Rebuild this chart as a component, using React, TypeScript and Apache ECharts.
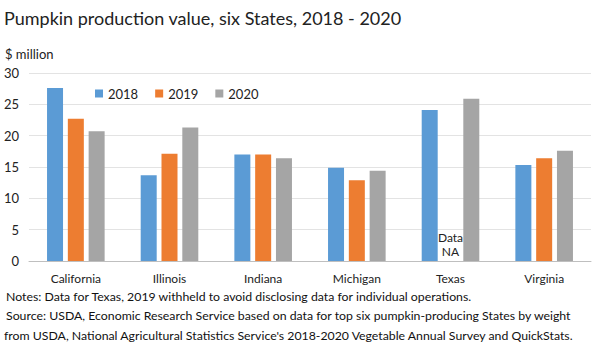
import React, { useEffect, useRef } from "react";
import * as echarts from "echarts";

const states = ["California", "Illinois", "Indiana", "Michigan", "Texas", "Virginia"];
const years = ["2018", "2019", "2020"];
const values2018 = [27.6, 13.7, 17.0, 14.9, 24.1, 15.3];
const values2019: (number | null)[] = [22.7, 17.1, 17.0, 12.9, null, 16.4];
const values2020 = [20.7, 21.3, 16.4, 14.4, 25.9, 17.6];
const colors = ["#5B9BD5", "#ED7D31", "#A5A5A5"];

const titleText = "Pumpkin production value, six States, 2018 - 2020";
const unitText = "$ million";
const noteLines = [
  "Notes: Data for Texas, 2019 withheld to avoid disclosing data for individual operations.",
  "Source: USDA, Economic Research Service based on data for top six pumpkin-producing States by weight",
  "from USDA, National Agricultural Statistics Service's 2018-2020 Vegetable Annual Survey and QuickStats.",
];
const naLabel = "Data\nNA";

const FONT = "Lato, 'Open Sans', sans-serif";

export default function App() {
  const ref = useRef<HTMLDivElement>(null);
  useEffect(() => {
    if (!ref.current) return;
    const chart = echarts.init(ref.current, null, { renderer: "svg" });
    const seriesData = [values2018, values2019, values2020];
    chart.setOption({
      animation: false,
      backgroundColor: "#fff",
      textStyle: { fontFamily: FONT },
      grid: { left: 29, right: 9, top: 73, bottom: 90, containLabel: false },
      legend: {
        data: years,
        left: 90,
        top: 82,
        itemWidth: 8,
        itemHeight: 8,
        itemGap: 17,
        icon: "rect",
        textStyle: { fontSize: 13, color: "#222", fontFamily: FONT },
      },
      xAxis: {
        type: "category",
        data: states,
        axisLine: { lineStyle: { color: "#bfbfbf", width: 1 } },
        axisTick: { show: false },
        axisLabel: { color: "#222", fontSize: 12, margin: 11, fontFamily: FONT },
      },
      yAxis: {
        type: "value",
        min: 0,
        max: 30,
        interval: 5,
        axisLine: { show: false },
        axisTick: { show: false },
        splitLine: { lineStyle: { color: "#e3e3e3", width: 1 } },
        axisLabel: { color: "#222", fontSize: 13, margin: 10, fontFamily: FONT },
      },
      series: years.map((y, i) => ({
        name: y,
        type: "bar",
        data: seriesData[i],
        itemStyle: { color: colors[i] },
        barWidth: 16,
        barGap: "30%",
        barCategoryGap: "38%",
      })),
    });
    const p = chart.convertToPixel({ gridIndex: 0 } as any, ["Texas", 0]) as number[];
    chart.setOption({
      graphic: [
        {
          type: "text",
          left: 4,
          top: 9,
          style: { text: titleText, fontSize: 18, fill: "#222", fontFamily: FONT },
        },
        {
          type: "text",
          left: 5,
          top: 47,
          style: { text: unitText, fontSize: 13, fill: "#222", fontFamily: FONT },
        },
        {
          type: "text",
          x: p[0],
          y: p[1] - 3,
          style: {
            text: naLabel,
            fontSize: 12,
            lineHeight: 14,
            fill: "#222",
            align: "center",
            verticalAlign: "bottom",
            fontFamily: FONT,
          },
        },
        ...noteLines.map((t, i) => ({
          type: "text",
          left: i === 2 ? 4 : 6,
          top: 290 + i * 19.5,
          style: { text: t, fontSize: 12.3, fill: "#111", fontFamily: FONT },
        })),
      ],
    });
    return () => chart.dispose();
  }, []);
  return <div ref={ref} style={{ width: 600, height: 351, position: "absolute", left: 0, top: 0 }} />;
}
